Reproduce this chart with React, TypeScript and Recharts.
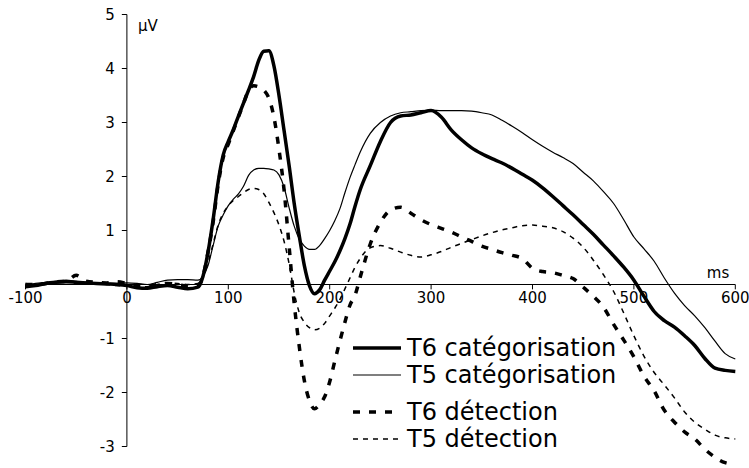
import React from 'react';
import { Legend, Line, LineChart, ReferenceLine, XAxis, YAxis } from 'recharts';

// time points (ms), denser around the fast early components
const TIMES = [
  -100, -90, -80, -70, -60, -50, -40, -30, -20, -10, 0, 10, 20, 30, 40, 50, 60,
  70, 75, 80, 85, 90, 95, 100, 105, 110, 115, 120, 125, 130, 135, 140, 145, 150,
  155, 160, 165, 170, 175, 180, 185, 190, 195, 200, 205, 210, 215, 220, 225, 230,
  240, 250, 260, 270, 280, 290, 300, 310, 320, 330, 340, 350, 360, 370, 380, 390,
  400, 410, 420, 430, 440, 450, 460, 470, 480, 490, 500, 510, 520, 530, 540, 550,
  560, 570, 580, 590, 600,
];

const T6_CAT = [
  -0.04, -0.02, 0.02, 0.04, 0.05, 0.04, 0.03, 0.02, 0.01, 0.0, -0.02, -0.06, -0.07, -0.04, -0.02, -0.05, -0.08,
  -0.05, 0.15, 0.6, 1.2, 1.9, 2.4, 2.65, 2.87, 3.12, 3.36, 3.6, 3.85, 4.15, 4.32, 4.33, 4.05, 3.5,
  2.85, 2.2, 1.5, 0.9, 0.35, -0.02, -0.17, -0.1, 0.08, 0.25, 0.42, 0.62, 0.85, 1.12, 1.45, 1.75,
  2.2, 2.65, 3.0, 3.12, 3.14, 3.18, 3.22, 3.1, 2.86, 2.68, 2.53, 2.42, 2.33, 2.25, 2.15, 2.04,
  1.93, 1.79, 1.63, 1.46, 1.29, 1.11, 0.93, 0.73, 0.53, 0.32, 0.08, -0.22, -0.5, -0.67, -0.79, -0.95,
  -1.13, -1.37, -1.55, -1.59, -1.61,
];

const T5_CAT = [
  0.0, 0.02, 0.04, 0.06, 0.08, 0.06, 0.04, 0.03, 0.02, 0.02, 0.03, 0.02, 0.0, 0.04, 0.08, 0.09, 0.09,
  0.08, 0.15, 0.35, 0.72, 1.08, 1.29, 1.46, 1.58, 1.68, 1.82, 2.02, 2.12, 2.15, 2.15, 2.14, 2.12, 2.03,
  1.8, 1.42, 1.08, 0.84, 0.71, 0.65, 0.65, 0.72, 0.85, 1.0, 1.18, 1.4, 1.7, 1.98, 2.22, 2.45,
  2.8, 3.0, 3.12, 3.18, 3.2, 3.22, 3.23, 3.22, 3.22, 3.22, 3.21, 3.18, 3.14, 3.04, 2.93, 2.81,
  2.68, 2.56, 2.45, 2.35, 2.24, 2.08, 1.92, 1.72, 1.5, 1.2, 0.88, 0.66, 0.43, 0.12, -0.16, -0.39,
  -0.58, -0.8, -1.05, -1.28, -1.38,
];

const T6_DET = [
  0.0, 0.0, 0.02, 0.05, 0.06, 0.17, 0.06, 0.04, 0.03, 0.05, 0.02, -0.02, -0.03, 0.0, 0.02, 0.0, -0.03,
  -0.02, 0.15, 0.6, 1.15, 1.85, 2.35, 2.6, 2.85, 3.1, 3.35, 3.6, 3.68, 3.66, 3.6, 3.45, 3.1, 2.5,
  1.75, 0.7, -0.35, -1.15, -1.78, -2.15, -2.3, -2.22, -2.08, -1.8, -1.42, -1.05, -0.7, -0.38, -0.2, 0.13,
  0.75, 1.15, 1.38, 1.43, 1.32, 1.2, 1.11, 1.04, 0.97, 0.88, 0.8, 0.71, 0.65, 0.59, 0.54, 0.48,
  0.3, 0.24, 0.22, 0.17, 0.11, -0.05, -0.22, -0.42, -0.74, -1.03, -1.34, -1.7, -1.97, -2.33, -2.55, -2.73,
  -2.86, -3.05, -3.2, -3.3, -3.33,
];

const T5_DET = [
  0.02, 0.0, 0.02, 0.04, 0.05, 0.05, 0.03, 0.02, 0.0, -0.02, -0.03, -0.05, -0.04, 0.0, 0.03, 0.02, 0.0,
  0.02, 0.15, 0.4, 0.75, 1.1, 1.32, 1.46, 1.56, 1.63, 1.7, 1.76, 1.78, 1.76, 1.68, 1.52, 1.33, 1.1,
  0.8, 0.38, -0.15, -0.52, -0.7, -0.8, -0.84, -0.81, -0.72, -0.58, -0.44, -0.28, -0.08, 0.12, 0.32, 0.48,
  0.68, 0.72, 0.67, 0.6, 0.54, 0.51, 0.55, 0.61, 0.69, 0.76, 0.83, 0.9, 0.96, 1.01, 1.05, 1.09,
  1.1, 1.08, 1.05, 0.98, 0.86, 0.69, 0.45, 0.18, -0.13, -0.53, -0.95, -1.33, -1.63, -1.86, -2.1, -2.36,
  -2.55, -2.68, -2.79, -2.84, -2.86,
];

const X_TICKS = [-100, 0, 100, 200, 300, 400, 500, 600];
const Y_TICKS = [5, 4, 3, 2, 1, -1, -2, -3];

const SERIES = [
  { key: 't6cat', name: 'T6 catégorisation', width: 3.5, dash: undefined as string | undefined },
  { key: 't5cat', name: 'T5 catégorisation', width: 1.2, dash: undefined as string | undefined },
  { key: 't6det', name: 'T6 détection', width: 3.5, dash: '7 9' },
  { key: 't5det', name: 'T5 détection', width: 1.5, dash: '5 5' },
];

const data = TIMES.map((t, i) => ({
  t,
  t6cat: T6_CAT[i],
  t5cat: T5_CAT[i],
  t6det: T6_DET[i],
  t5det: T5_DET[i],
}));

const FONT = '"DejaVu Sans", Verdana, sans-serif';

function LegendBox({ payload }: { payload?: Array<{ dataKey?: string; value?: string }> }) {
  // keep series order (recharts sorts the payload by name)
  const items = SERIES.map((s) => ({ s, entry: (payload || []).find((p) => p.dataKey === s.key) })).filter(
    (x) => x.entry,
  );
  return (
    <div style={{ fontFamily: FONT, fontSize: 24, color: '#000' }}>
      {items.map(({ s, entry }, i) => (
        <div
          key={s.key}
          style={{ display: 'flex', alignItems: 'center', height: 27, marginTop: i === 2 ? 10 : 0 }}
        >
          <svg width={50} height={10} style={{ flex: 'none' }}>
            <line x1={2} y1={5} x2={50} y2={5} stroke="#000" strokeWidth={s.width} strokeDasharray={s.dash} />
          </svg>
          <span style={{ marginLeft: 6, whiteSpace: 'nowrap' }}>{entry!.value}</span>
        </div>
      ))}
    </div>
  );
}

export default function App() {
  return (
    <div style={{ position: 'absolute', left: 0, top: 0, fontFamily: FONT, background: '#fff' }}>
      <LineChart
        width={749}
        height={468}
        data={data}
        margin={{ top: 14.5, right: 13.7, bottom: 2.6, left: 25.5 }}
      >
        <XAxis type="number" dataKey="t" domain={[-100, 600]} hide />
        <YAxis type="number" domain={[-3.35, 5]} hide />

        {/* x axis through zero */}
        <ReferenceLine
          segment={[{ x: -100, y: 0 }, { x: 600, y: 0 }]}
          stroke="#000"
          strokeWidth={1}
          label={{
            content: ({ viewBox }: any) => (
              <text
                x={viewBox.x + viewBox.width - 6}
                y={viewBox.y - 7}
                textAnchor="end"
                fontSize={15}
                fill="#000"
              >
                ms
              </text>
            ),
          }}
        />
        {X_TICKS.map((v) => (
          <ReferenceLine
            key={`xt${v}`}
            segment={[{ x: v, y: 0 }, { x: v, y: -0.09 }]}
            stroke="#000"
            strokeWidth={1}
            label={{ value: String(v), position: 'bottom', offset: 3, fontSize: 15, fill: '#000' }}
          />
        ))}

        {/* y axis through zero */}
        <ReferenceLine
          segment={[{ x: 0, y: -3 }, { x: 0, y: 5 }]}
          stroke="#000"
          strokeWidth={1}
          label={{
            content: ({ viewBox }: any) => (
              <text x={viewBox.x + 11} y={viewBox.y + 16} fontSize={15} fill="#000">
                µV
              </text>
            ),
          }}
        />
        {Y_TICKS.map((v) => (
          <ReferenceLine
            key={`yt${v}`}
            segment={[{ x: 0, y: v }, { x: -5, y: v }]}
            stroke="#000"
            strokeWidth={1}
            label={{ value: String(v), position: 'left', offset: 7, fontSize: 15, fill: '#000' }}
          />
        ))}

        {SERIES.map((s) => (
          <Line
            key={s.key}
            type="monotone"
            dataKey={s.key}
            name={s.name}
            stroke="#000"
            strokeWidth={s.width}
            strokeDasharray={s.dash}
            dot={false}
            activeDot={false}
            isAnimationActive={false}
          />
        ))}

        <Legend
          layout="vertical"
          align="center"
          verticalAlign="middle"
          content={<LegendBox />}
          wrapperStyle={{ left: 351, top: 334, width: 330 }}
        />
      </LineChart>
    </div>
  );
}
